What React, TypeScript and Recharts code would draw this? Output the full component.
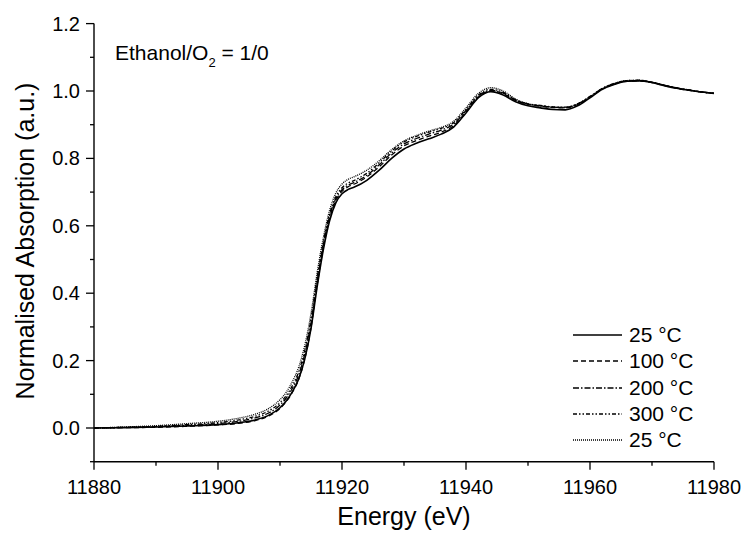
import { LineChart, Line, XAxis, YAxis } from "recharts"

const energy = [
    11880, 11885, 11890, 11895, 11900, 11903, 11906, 11908, 11910, 11911,
    11912, 11913, 11914, 11915, 11916, 11917, 11918, 11919, 11920, 11921,
    11922, 11924, 11926, 11928, 11930, 11932, 11934, 11936, 11938, 11940,
    11942, 11944, 11946, 11948, 11950, 11952, 11954, 11956, 11958, 11960,
    11962, 11964, 11966, 11968, 11970, 11972, 11974, 11976, 11978, 11980,
]

const t25 = [
    0.000, 0.001, 0.003, 0.006, 0.010, 0.015, 0.024, 0.036, 0.060, 0.080,
    0.108, 0.145, 0.205, 0.295, 0.420, 0.530, 0.615, 0.668, 0.695, 0.708,
    0.715, 0.735, 0.765, 0.800, 0.828, 0.845, 0.858, 0.872, 0.893, 0.935,
    0.980, 0.998, 0.988, 0.968, 0.956, 0.950, 0.945, 0.944, 0.956, 0.980,
    1.005, 1.020, 1.029, 1.030, 1.025, 1.016, 1.008, 1.002, 0.997, 0.993,
]

const t100 = [
    0.000, 0.001, 0.002, 0.005, 0.009, 0.013, 0.022, 0.034, 0.058, 0.078,
    0.106, 0.144, 0.205, 0.298, 0.425, 0.537, 0.622, 0.675, 0.702, 0.716,
    0.724, 0.745, 0.775, 0.810, 0.837, 0.853, 0.866, 0.878, 0.897, 0.938,
    0.982, 1.000, 0.992, 0.972, 0.960, 0.955, 0.951, 0.950, 0.960, 0.982,
    1.006, 1.021, 1.029, 1.030, 1.025, 1.016, 1.008, 1.002, 0.997, 0.993,
]

const t200 = [
    0.000, 0.002, 0.004, 0.008, 0.013, 0.019, 0.030, 0.043, 0.068, 0.089,
    0.118, 0.157, 0.220, 0.312, 0.437, 0.545, 0.628, 0.680, 0.707, 0.721,
    0.729, 0.750, 0.781, 0.816, 0.843, 0.859, 0.872, 0.884, 0.902, 0.942,
    0.985, 1.002, 0.994, 0.973, 0.961, 0.956, 0.952, 0.951, 0.961, 0.983,
    1.007, 1.022, 1.030, 1.031, 1.026, 1.017, 1.009, 1.003, 0.997, 0.993,
]

const t300 = [
    0.000, 0.002, 0.005, 0.010, 0.016, 0.023, 0.035, 0.049, 0.075, 0.096,
    0.126, 0.166, 0.230, 0.323, 0.447, 0.553, 0.635, 0.686, 0.713, 0.727,
    0.735, 0.756, 0.787, 0.822, 0.849, 0.865, 0.878, 0.889, 0.906, 0.945,
    0.988, 1.005, 0.996, 0.974, 0.962, 0.957, 0.953, 0.952, 0.962, 0.984,
    1.008, 1.023, 1.031, 1.032, 1.026, 1.017, 1.009, 1.003, 0.997, 0.993,
]

const t25after = [
    0.000, 0.003, 0.007, 0.013, 0.020, 0.028, 0.041, 0.056, 0.084, 0.106,
    0.138, 0.180, 0.246, 0.340, 0.462, 0.566, 0.646, 0.697, 0.724, 0.738,
    0.746, 0.765, 0.793, 0.826, 0.852, 0.868, 0.881, 0.892, 0.910, 0.950,
    0.993, 1.010, 1.000, 0.976, 0.962, 0.956, 0.952, 0.951, 0.961, 0.983,
    1.007, 1.023, 1.031, 1.032, 1.026, 1.017, 1.009, 1.003, 0.997, 0.993,
]

const xTicks = [11880, 11890, 11900, 11910, 11920, 11930, 11940, 11950, 11960, 11970, 11980]
const yTicks = [-0.1, 0, 0.1, 0.2, 0.3, 0.4, 0.5, 0.6, 0.7, 0.8, 0.9, 1.0, 1.1, 1.2]

const series = [
    { key: "s25", name: "25 °C", values: t25, dash: undefined, width: 1.6 },
    { key: "s100", name: "100 °C", values: t100, dash: "5 3", width: 1.3 },
    { key: "s200", name: "200 °C", values: t200, dash: "6 2 1.5 2", width: 1.3 },
    { key: "s300", name: "300 °C", values: t300, dash: "4 2 1.5 2 1.5 2", width: 1.3 },
    { key: "s25b", name: "25 °C", values: t25after, dash: "1 1", width: 1.3 },
]

const data = energy.map((e, i) => {
    const row: Record<string, number> = { energy: e }
    series.forEach((s) => { row[s.key] = s.values[i] })
    return row
})

const FONT = "'Liberation Sans', Arial, sans-serif"

const XTick = (props: any) => {
    const { x, y, payload } = props
    const major = (payload.value - 11880) % 20 === 0
    return (
        <g>
            <line x1={x} y1={y} x2={x} y2={y + (major ? 8 : 4)} stroke="#000" strokeWidth={1.3} />
            {major && (
                <text x={x} y={y + 32} textAnchor="middle" fontSize={20} fontFamily={FONT} fill="#000">
                    {payload.value}
                </text>
            )}
        </g>
    )
}

const YTick = (props: any) => {
    const { x, y, payload } = props
    const major = Math.round(payload.value * 10) % 2 === 0
    return (
        <g>
            <line x1={x - (major ? 8 : 4)} y1={y} x2={x} y2={y} stroke="#000" strokeWidth={1.3} />
            {major && (
                <text x={x - 14} y={y + 7} textAnchor="end" fontSize={20} fontFamily={FONT} fill="#000">
                    {payload.value.toFixed(1)}
                </text>
            )}
        </g>
    )
}

export default function App() {
    return (
        <div style={{ position: "absolute", left: 0, top: 0, width: 747, height: 535, background: "#fff", fontFamily: FONT }}>
            <LineChart width={747} height={535} data={data} margin={{ top: 23.6, right: 33, bottom: 13.3, left: 24 }}>
                <XAxis
                    dataKey="energy"
                    type="number"
                    domain={[11880, 11980]}
                    ticks={xTicks}
                    tickSize={0}
                    tickMargin={0}
                    tick={<XTick />}
                    stroke="#000"
                    strokeWidth={1.4}
                    height={60}
                />
                <XAxis
                    xAxisId="top"
                    dataKey="energy"
                    type="number"
                    orientation="top"
                    mirror
                    domain={[11880, 11980]}
                    ticks={xTicks}
                    tickSize={4}
                    tick={false}
                    stroke="#000"
                    strokeWidth={1.4}
                    height={0}
                />
                <YAxis
                    type="number"
                    domain={[-0.1, 1.2]}
                    ticks={yTicks}
                    tickSize={0}
                    tickMargin={0}
                    tick={<YTick />}
                    stroke="#000"
                    strokeWidth={1.4}
                    width={70}
                />
                <YAxis
                    yAxisId="right"
                    orientation="right"
                    mirror
                    type="number"
                    domain={[-0.1, 1.2]}
                    ticks={yTicks}
                    tickSize={4}
                    tick={false}
                    stroke="#000"
                    strokeWidth={1.4}
                    width={0}
                />
                {series.map((s) => (
                    <Line
                        key={s.key}
                        dataKey={s.key}
                        name={s.name}
                        type="monotone"
                        stroke="#000"
                        strokeWidth={s.width}
                        strokeDasharray={s.dash}
                        dot={false}
                        isAnimationActive={false}
                    />
                ))}
            </LineChart>

            <div style={{ position: "absolute", left: 115, top: 41, fontSize: 21, lineHeight: "24px", color: "#000", whiteSpace: "nowrap" }}>
                Ethanol/O<span style={{ fontSize: 13, position: "relative", top: 7 }}>2</span> = 1/0
            </div>

            <div style={{ position: "absolute", left: 404, top: 502, transform: "translateX(-50%)", fontSize: 25, color: "#000", whiteSpace: "nowrap" }}>
                Energy (eV)
            </div>

            <div style={{ position: "absolute", left: 25, top: 241, transform: "translate(-50%, -50%) rotate(-90deg)", fontSize: 25, color: "#000", whiteSpace: "nowrap" }}>
                Normalised Absorption (a.u.)
            </div>

            <div style={{ position: "absolute", left: 573, top: 322 }}>
                {series.map((s) => (
                    <div key={s.key} style={{ display: "flex", alignItems: "center", height: 26.3 }}>
                        <svg width={50} height={6}>
                            <line x1={0} y1={3} x2={49} y2={3} stroke="#000" strokeWidth={s.width} strokeDasharray={s.dash} />
                        </svg>
                        <span style={{ marginLeft: 6, fontSize: 21, color: "#000", whiteSpace: "nowrap" }}>{s.name}</span>
                    </div>
                ))}
            </div>
        </div>
    )
}
